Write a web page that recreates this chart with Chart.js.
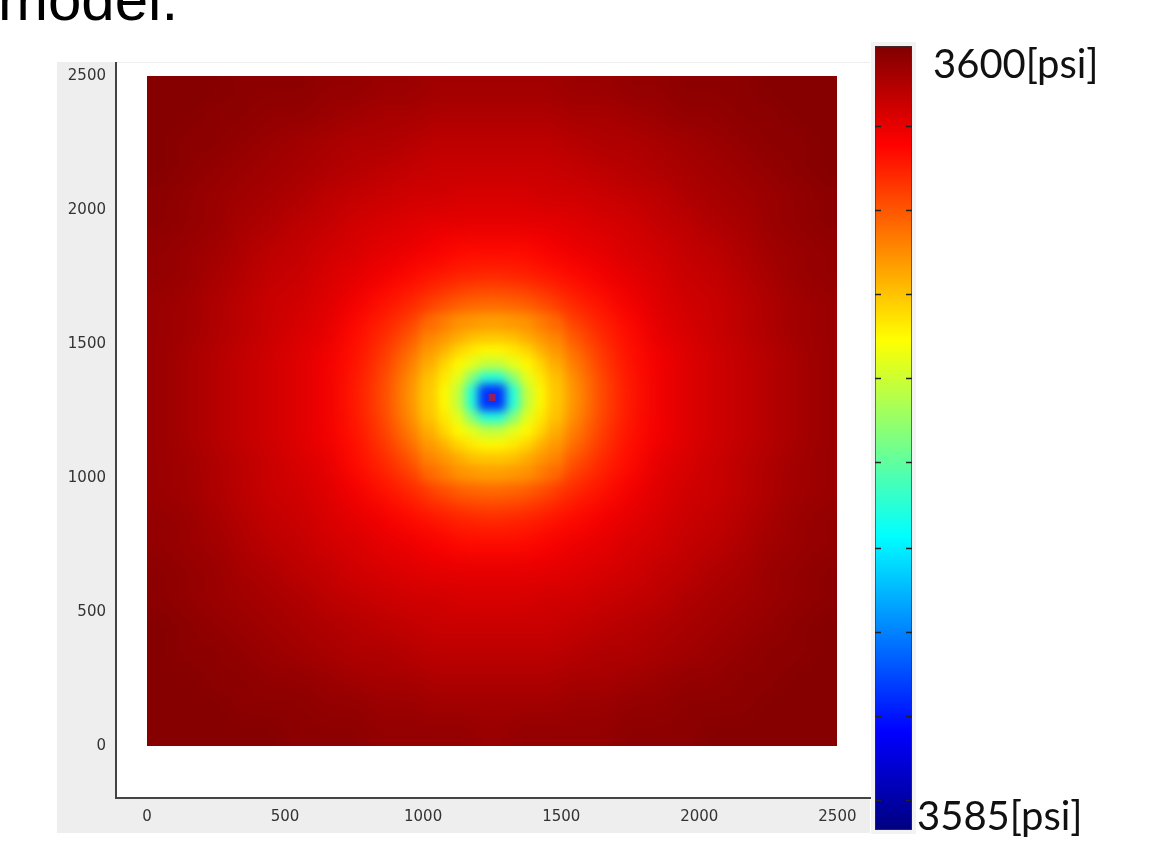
<!DOCTYPE html>
<html lang="en">
<head>
<meta charset="UTF-8">
<title>Pressure field around the well</title>
<script src="https://cdn.jsdelivr.net/npm/chart.js"></script>
<style>
    body {
        margin: 0;
        width: 1155px;
        height: 841px;
        position: relative;
        overflow: hidden;
        background: #fff;
        font-family: "Liberation Sans", Arial, sans-serif;
    }
    .caption {
        position: absolute;
        left: -2px;
        top: -30px;
        font-size: 60px;
        line-height: 60px;
        color: #000;
    }
    .panel {
        position: absolute;
        left: 57px;
        top: 62px;
        width: 813px;
        height: 771px;
        background: #eeeeee;
    }
    #fieldChart { position: absolute; left: 0; top: 0; }
    #barChart { position: absolute; left: 860px; top: 0; }
</style>
</head>
<body>

<div class="caption">model.</div>
<div class="panel"></div>
<canvas id="fieldChart" width="900" height="841"></canvas>
<canvas id="barChart" width="295" height="841"></canvas>

<script>
// colour range of the plot [psi]
const pMin = 3585;
const pMax = 3600;

// axis ticks
const xTicks = [0, 500, 1000, 1500, 2000, 2500];
const yTicks = [0, 500, 1000, 1500, 2000, 2500];

// colour bar tick marks and end labels
const cbTicks = [3598.47, 3596.86, 3595.26, 3593.65, 3592.04, 3590.40, 3588.79, 3587.18, 3585.57];
const cbLabels = ['3600[psi]', '3585[psi]'];

// whole model, 100 x 100 cells (centres), rows listed from top to bottom
const cellX = [50, 150, 250, 350, 450, 550, 650, 750, 850, 950, 1050, 1150, 1250,
               1350, 1450, 1550, 1650, 1750, 1850, 1950, 2050, 2150, 2250, 2350, 2450];
const cellY = [2450, 2350, 2250, 2150, 2050, 1950, 1850, 1750, 1650, 1550, 1450, 1350, 1250,
               1150, 1050, 950, 850, 750, 650, 550, 450, 350, 250, 150, 50];
const pressure = [
    [3599.9,3599.9,3599.9,3599.8,3599.8,3599.8,3599.7,3599.7,3599.6,3599.6,3599.5,3599.5,3599.5,3599.5,3599.5,3599.6,3599.6,3599.7,3599.7,3599.8,3599.8,3599.8,3599.9,3599.9,3599.9],
    [3599.9,3599.9,3599.8,3599.8,3599.7,3599.7,3599.6,3599.5,3599.4,3599.4,3599.3,3599.3,3599.3,3599.3,3599.3,3599.4,3599.4,3599.5,3599.6,3599.7,3599.7,3599.8,3599.8,3599.9,3599.9],
    [3599.9,3599.8,3599.8,3599.7,3599.6,3599.5,3599.4,3599.3,3599.3,3599.2,3599.1,3599.1,3599.1,3599.1,3599.1,3599.2,3599.3,3599.3,3599.4,3599.5,3599.6,3599.7,3599.8,3599.8,3599.9],
    [3599.9,3599.8,3599.7,3599.6,3599.5,3599.4,3599.3,3599.2,3599.1,3599.0,3598.9,3598.9,3598.9,3598.9,3598.9,3599.0,3599.1,3599.2,3599.3,3599.4,3599.5,3599.6,3599.7,3599.8,3599.9],
    [3599.8,3599.7,3599.6,3599.5,3599.4,3599.3,3599.1,3599.0,3598.9,3598.8,3598.8,3598.7,3598.7,3598.7,3598.8,3598.8,3598.9,3599.0,3599.1,3599.3,3599.4,3599.5,3599.6,3599.7,3599.8],
    [3599.8,3599.7,3599.6,3599.4,3599.3,3599.1,3599.0,3598.8,3598.7,3598.6,3598.5,3598.5,3598.5,3598.5,3598.5,3598.6,3598.7,3598.8,3599.0,3599.1,3599.3,3599.4,3599.6,3599.7,3599.8],
    [3599.7,3599.6,3599.5,3599.3,3599.1,3599.0,3598.8,3598.7,3598.5,3598.4,3598.2,3598.0,3598.0,3598.0,3598.2,3598.4,3598.5,3598.7,3598.8,3599.0,3599.1,3599.3,3599.5,3599.6,3599.7],
    [3599.7,3599.6,3599.4,3599.2,3599.0,3598.9,3598.7,3598.5,3598.3,3598.0,3597.8,3597.6,3597.5,3597.6,3597.8,3598.0,3598.3,3598.5,3598.7,3598.9,3599.0,3599.2,3599.4,3599.6,3599.7],
    [3599.6,3599.5,3599.3,3599.1,3598.9,3598.8,3598.6,3598.3,3597.9,3597.6,3597.1,3596.7,3596.6,3596.7,3597.1,3597.6,3597.9,3598.3,3598.6,3598.8,3598.9,3599.1,3599.3,3599.5,3599.6],
    [3599.6,3599.5,3599.3,3599.1,3598.9,3598.7,3598.5,3598.0,3597.6,3597.0,3596.2,3595.7,3595.5,3595.7,3596.2,3597.0,3597.6,3598.0,3598.5,3598.7,3598.9,3599.1,3599.3,3599.5,3599.6],
    [3599.6,3599.4,3599.2,3599.0,3598.8,3598.6,3598.3,3597.9,3597.3,3596.4,3595.5,3594.5,3594.1,3594.5,3595.5,3596.4,3597.3,3597.9,3598.3,3598.6,3598.8,3599.0,3599.2,3599.4,3599.6],
    [3599.6,3599.4,3599.2,3599.0,3598.8,3598.6,3598.3,3597.8,3597.1,3596.0,3594.9,3592.8,3589.0,3592.8,3594.9,3596.0,3597.1,3597.8,3598.3,3598.6,3598.8,3599.0,3599.2,3599.4,3599.6],
    [3599.6,3599.4,3599.2,3599.0,3598.8,3598.6,3598.3,3597.8,3597.1,3596.0,3594.9,3592.8,3589.0,3592.8,3594.9,3596.0,3597.1,3597.8,3598.3,3598.6,3598.8,3599.0,3599.2,3599.4,3599.6],
    [3599.6,3599.4,3599.2,3599.0,3598.8,3598.6,3598.3,3597.9,3597.3,3596.4,3595.5,3594.5,3594.1,3594.5,3595.5,3596.4,3597.3,3597.9,3598.3,3598.6,3598.8,3599.0,3599.2,3599.4,3599.6],
    [3599.6,3599.5,3599.3,3599.1,3598.9,3598.7,3598.5,3598.0,3597.6,3597.0,3596.2,3595.7,3595.5,3595.7,3596.2,3597.0,3597.6,3598.0,3598.5,3598.7,3598.9,3599.1,3599.3,3599.5,3599.6],
    [3599.6,3599.5,3599.3,3599.1,3598.9,3598.8,3598.6,3598.3,3597.9,3597.6,3597.1,3596.7,3596.6,3596.7,3597.1,3597.6,3597.9,3598.3,3598.6,3598.8,3598.9,3599.1,3599.3,3599.5,3599.6],
    [3599.7,3599.6,3599.4,3599.2,3599.0,3598.9,3598.7,3598.5,3598.3,3598.0,3597.8,3597.6,3597.5,3597.6,3597.8,3598.0,3598.3,3598.5,3598.7,3598.9,3599.0,3599.2,3599.4,3599.6,3599.7],
    [3599.7,3599.6,3599.5,3599.3,3599.1,3599.0,3598.8,3598.7,3598.5,3598.4,3598.2,3598.0,3598.0,3598.0,3598.2,3598.4,3598.5,3598.7,3598.8,3599.0,3599.1,3599.3,3599.5,3599.6,3599.7],
    [3599.8,3599.7,3599.6,3599.4,3599.3,3599.1,3599.0,3598.8,3598.7,3598.6,3598.5,3598.5,3598.5,3598.5,3598.5,3598.6,3598.7,3598.8,3599.0,3599.1,3599.3,3599.4,3599.6,3599.7,3599.8],
    [3599.8,3599.7,3599.6,3599.5,3599.4,3599.3,3599.1,3599.0,3598.9,3598.8,3598.8,3598.7,3598.7,3598.7,3598.8,3598.8,3598.9,3599.0,3599.1,3599.3,3599.4,3599.5,3599.6,3599.7,3599.8],
    [3599.9,3599.8,3599.7,3599.6,3599.5,3599.4,3599.3,3599.2,3599.1,3599.0,3598.9,3598.9,3598.9,3598.9,3598.9,3599.0,3599.1,3599.2,3599.3,3599.4,3599.5,3599.6,3599.7,3599.8,3599.9],
    [3599.9,3599.8,3599.8,3599.7,3599.6,3599.5,3599.4,3599.3,3599.3,3599.2,3599.1,3599.1,3599.1,3599.1,3599.1,3599.2,3599.3,3599.3,3599.4,3599.5,3599.6,3599.7,3599.8,3599.8,3599.9],
    [3599.9,3599.9,3599.8,3599.8,3599.7,3599.7,3599.6,3599.5,3599.4,3599.4,3599.3,3599.3,3599.3,3599.3,3599.3,3599.4,3599.4,3599.5,3599.6,3599.7,3599.7,3599.8,3599.8,3599.9,3599.9],
    [3599.9,3599.9,3599.9,3599.8,3599.8,3599.8,3599.7,3599.7,3599.6,3599.6,3599.5,3599.5,3599.5,3599.5,3599.5,3599.6,3599.6,3599.7,3599.7,3599.8,3599.8,3599.8,3599.9,3599.9,3599.9],
    [3599.9,3599.9,3599.9,3599.9,3599.9,3599.8,3599.8,3599.8,3599.7,3599.7,3599.7,3599.7,3599.6,3599.7,3599.7,3599.7,3599.7,3599.8,3599.8,3599.8,3599.9,3599.9,3599.9,3599.9,3599.9]
];

// refined block around the well, 50 x 50 cells, rows from top to bottom
const wellX = [1025, 1075, 1125, 1175, 1225, 1275, 1325, 1375, 1425, 1475];
const wellY = [1575, 1525, 1475, 1425, 1375, 1325, 1275, 1225, 1175, 1125, 1075, 1025];
const wellPressure = [
    [3596.6, 3596.3, 3596.0, 3595.9, 3595.8, 3595.8, 3595.9, 3596.0, 3596.3, 3596.6],
    [3596.2, 3595.9, 3595.6, 3595.3, 3595.2, 3595.2, 3595.3, 3595.6, 3595.9, 3596.2],
    [3595.9, 3595.5, 3595.0, 3594.7, 3594.5, 3594.5, 3594.7, 3595.0, 3595.5, 3595.9],
    [3595.6, 3595.0, 3594.5, 3594.0, 3593.5, 3593.5, 3594.0, 3594.5, 3595.0, 3595.6],
    [3595.3, 3594.7, 3594.0, 3592.6, 3591.2, 3591.2, 3592.6, 3594.0, 3594.7, 3595.3],
    [3595.2, 3594.5, 3593.5, 3591.2, 3587.6, 3587.6, 3591.2, 3593.5, 3594.5, 3595.2],
    [3595.2, 3594.5, 3593.5, 3591.2, 3587.6, 3587.6, 3591.2, 3593.5, 3594.5, 3595.2],
    [3595.3, 3594.7, 3594.0, 3592.6, 3591.2, 3591.2, 3592.6, 3594.0, 3594.7, 3595.3],
    [3595.6, 3595.0, 3594.5, 3594.0, 3593.5, 3593.5, 3594.0, 3594.5, 3595.0, 3595.6],
    [3595.9, 3595.5, 3595.0, 3594.7, 3594.5, 3594.5, 3594.7, 3595.0, 3595.5, 3595.9],
    [3596.2, 3595.9, 3595.6, 3595.3, 3595.2, 3595.2, 3595.3, 3595.6, 3595.9, 3596.2],
    [3596.6, 3596.3, 3596.0, 3595.9, 3595.8, 3595.8, 3595.9, 3596.0, 3596.3, 3596.6]
];

// producing well location
const wellLocation = [{ x: 1250, y: 1300 }];

// jet colour map
function jet(v) {
    const t = Math.min(1, Math.max(0, (v - pMin) / (pMax - pMin)));
    const ch = k => Math.round(255 * Math.min(1, Math.max(0, 1.5 - Math.abs(4 * t - k))));
    return 'rgb(' + ch(3) + ',' + ch(2) + ',' + ch(1) + ')';
}

function toCells(xs, ys, grid) {
    const cells = [];
    ys.forEach((y, r) => xs.forEach((x, c) => cells.push({ x: x, y: y, v: grid[r][c] })));
    return cells;
}

// white plot area over the grey panel
const plotBackground = {
    id: 'plotBackground',
    beforeDraw(chart) {
        const a = chart.chartArea;
        chart.ctx.save();
        chart.ctx.fillStyle = '#ffffff';
        chart.ctx.fillRect(a.left, a.top, a.width, a.height);
        chart.ctx.restore();
    }
};

// draws the cells of every dataset that has a cellSize, softened like shaded output
const heatmap = {
    id: 'heatmap',
    beforeDatasetsDraw(chart) {
        const { ctx, scales: { x, y } } = chart;
        chart.data.datasets.forEach(ds => {
            if (!ds.cellSize) return;
            const w = ds.cellSize[0], h = ds.cellSize[1];
            const xs = ds.data.map(p => p.x), ys = ds.data.map(p => p.y);
            const L = Math.round(x.getPixelForValue(Math.min(...xs) - w / 2));
            const R = Math.round(x.getPixelForValue(Math.max(...xs) + w / 2));
            const T = Math.round(y.getPixelForValue(Math.max(...ys) + h / 2));
            const B = Math.round(y.getPixelForValue(Math.min(...ys) - h / 2));
            const pad = ds.feather ? 0 : ds.soften * 3;

            const off = document.createElement('canvas');
            off.width = chart.width;
            off.height = chart.height;
            const octx = off.getContext('2d');
            ds.data.forEach(p => {
                let x0 = Math.round(x.getPixelForValue(p.x - w / 2));
                let x1 = Math.round(x.getPixelForValue(p.x + w / 2));
                let y0 = Math.round(y.getPixelForValue(p.y + h / 2));
                let y1 = Math.round(y.getPixelForValue(p.y - h / 2));
                if (x0 <= L) x0 -= pad;
                if (x1 >= R) x1 += pad;
                if (y0 <= T) y0 -= pad;
                if (y1 >= B) y1 += pad;
                octx.fillStyle = jet(p.v);
                octx.fillRect(x0, y0, x1 - x0, y1 - y0);
            });

            ctx.save();
            if (!ds.feather) {
                ctx.beginPath();
                ctx.rect(L, T, R - L, B - T);
                ctx.clip();
            }
            ctx.filter = 'blur(' + ds.soften + 'px)';
            ctx.drawImage(off, 0, 0);
            ctx.restore();
        });
    }
};

const tickFont = { family: 'DejaVu Sans', size: 15 };
const plainNumber = v => String(v);

new Chart(document.getElementById('fieldChart'), {
    type: 'scatter',
    data: {
        datasets: [
            { label: 'pressure', data: toCells(cellX, cellY, pressure), cellSize: [100, 100], soften: 11, pointRadius: 0 },
            { label: 'near well', data: toCells(wellX, wellY, wellPressure), cellSize: [50, 50], soften: 5, feather: true, pointRadius: 0 },
            { label: 'well', data: wellLocation, pointStyle: 'rect', pointRadius: 5,
              backgroundColor: 'rgb(150,30,90)', borderWidth: 0 }
        ]
    },
    options: {
        responsive: false,
        animation: false,
        events: [],
        layout: { padding: { left: 57, right: 30, top: 63, bottom: 8 } },
        plugins: { legend: { display: false }, tooltip: { enabled: false } },
        scales: {
            x: {
                type: 'linear',
                min: -112,
                max: 2618,
                afterBuildTicks: s => { s.ticks = xTicks.map(v => ({ value: v })); },
                afterFit: s => { s.height = 35; },
                grid: { display: false, drawTicks: false },
                border: { color: '#444', width: 2 },
                ticks: { padding: 10, color: '#333', font: tickFont, maxRotation: 0, autoSkip: false, callback: plainNumber }
            },
            y: {
                type: 'linear',
                min: -194,
                max: 2548,
                afterBuildTicks: s => { s.ticks = yTicks.map(v => ({ value: v })); },
                afterFit: s => { s.width = 59; },
                grid: { display: false, drawTicks: false },
                border: { color: '#444', width: 2 },
                ticks: { padding: 10, color: '#333', font: tickFont, autoSkip: false, callback: plainNumber }
            }
        }
    },
    plugins: [plotBackground, heatmap]
});

// colour bar: one floating bar from pMin to pMax filled with the jet map
const colorbarDecor = {
    id: 'colorbarDecor',
    beforeDatasetsDraw(chart) {
        const a = chart.chartArea;
        chart.ctx.save();
        chart.ctx.fillStyle = '#f3f3f3';
        chart.ctx.fillRect(a.left - 4, a.top - 4, a.width + 8, a.height + 8);
        chart.ctx.restore();
    },
    afterDatasetsDraw(chart) {
        const { ctx, chartArea: a, scales: { y } } = chart;
        ctx.save();
        ctx.strokeStyle = '#222';
        ctx.lineWidth = 1.5;
        cbTicks.forEach(v => {
            const py = Math.round(y.getPixelForValue(v)) + 0.5;
            ctx.beginPath();
            ctx.moveTo(a.left, py);
            ctx.lineTo(a.left + 6, py);
            ctx.moveTo(a.right - 6, py);
            ctx.lineTo(a.right, py);
            ctx.stroke();
        });
        ctx.fillStyle = '#111';
        ctx.font = '40px Lato';
        ctx.textBaseline = 'alphabetic';
        ctx.fillText(cbLabels[0], a.right + 21, y.getPixelForValue(pMax) + 32);
        ctx.fillText(cbLabels[1], a.right + 5, y.getPixelForValue(pMin));
        ctx.restore();
    }
};

new Chart(document.getElementById('barChart'), {
    type: 'bar',
    data: {
        labels: ['p'],
        datasets: [{
            data: [[pMin, pMax]],
            backgroundColor: c => {
                const ch = c.chart;
                if (!ch.chartArea) return '#800000';
                const y = ch.scales.y;
                const g = ch.ctx.createLinearGradient(0, y.getPixelForValue(pMin), 0, y.getPixelForValue(pMax));
                [0, 0.125, 0.375, 0.625, 0.875, 1].forEach(s => g.addColorStop(s, jet(pMin + s * (pMax - pMin))));
                return g;
            },
            borderColor: '#333',
            borderWidth: 1,
            borderSkipped: false,
            barPercentage: 1,
            categoryPercentage: 1
        }]
    },
    options: {
        responsive: false,
        animation: false,
        events: [],
        layout: { padding: { left: 15, right: 243, top: 46, bottom: 11 } },
        plugins: { legend: { display: false }, tooltip: { enabled: false } },
        scales: {
            x: { display: false },
            y: { display: false, min: pMin, max: pMax }
        }
    },
    plugins: [colorbarDecor]
});
</script>
</body>
</html>
